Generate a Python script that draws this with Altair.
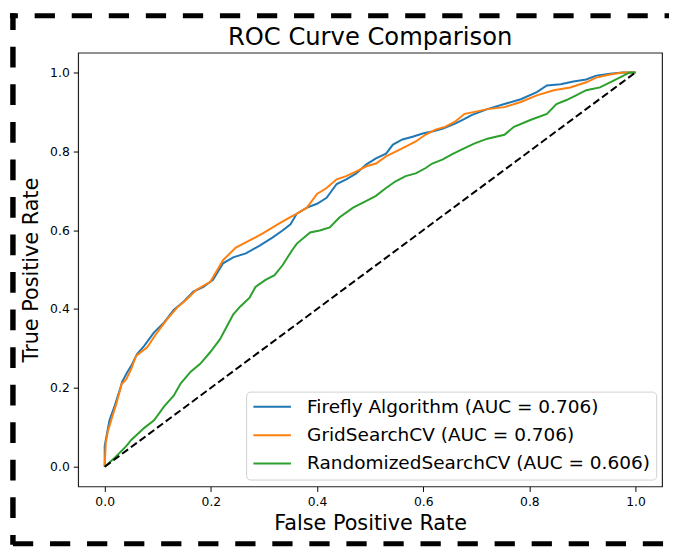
import altair as alt
import pandas as pd

# ---- data ----
models = ["Firefly Algorithm (AUC = 0.706)",
          "GridSearchCV (AUC = 0.706)",
          "RandomizedSearchCV (AUC = 0.606)"]
colors = ["#1f77b4", "#ff7f0e", "#2ca02c"]
title_text = ["ROC Curve Comparison"]

firefly_fpr = [0.0, 0.0, 0.009, 0.019, 0.028, 0.033, 0.043, 0.050, 0.061, 0.074, 0.093, 0.112, 0.130, 0.149,
               0.167, 0.186, 0.204, 0.223, 0.242, 0.266, 0.292, 0.316, 0.335, 0.350, 0.362, 0.381, 0.400, 0.418,
               0.437, 0.455, 0.474, 0.493, 0.511, 0.530, 0.543, 0.561, 0.580, 0.599, 0.617, 0.636, 0.660, 0.678,
               0.691, 0.721, 0.753, 0.784, 0.814, 0.833, 0.859, 0.883, 0.907, 0.926, 0.952, 0.976, 1.0]
firefly_tpr = [0.0, 0.053, 0.118, 0.155, 0.193, 0.216, 0.241, 0.256, 0.286, 0.306, 0.341, 0.366, 0.398, 0.419,
               0.444, 0.456, 0.474, 0.516, 0.531, 0.541, 0.561, 0.581, 0.599, 0.615, 0.642, 0.657, 0.667, 0.682,
               0.717, 0.729, 0.744, 0.767, 0.782, 0.794, 0.817, 0.830, 0.837, 0.845, 0.850, 0.857, 0.870, 0.882,
               0.892, 0.907, 0.920, 0.932, 0.950, 0.967, 0.970, 0.977, 0.982, 0.992, 0.997, 1.0, 1.0]

grid_fpr = [0.0, 0.002, 0.006, 0.015, 0.022, 0.032, 0.041, 0.050, 0.059, 0.080, 0.099, 0.117, 0.136, 0.154,
            0.173, 0.199, 0.223, 0.247, 0.273, 0.297, 0.329, 0.348, 0.362, 0.381, 0.400, 0.418, 0.437, 0.455,
            0.474, 0.493, 0.511, 0.530, 0.548, 0.567, 0.586, 0.604, 0.623, 0.641, 0.660, 0.678, 0.697, 0.721,
            0.753, 0.784, 0.814, 0.846, 0.877, 0.907, 0.926, 0.952, 0.976, 1.0]
grid_tpr = [0.0, 0.060, 0.090, 0.130, 0.160, 0.210, 0.223, 0.248, 0.281, 0.303, 0.341, 0.373, 0.403, 0.424,
            0.449, 0.469, 0.524, 0.556, 0.574, 0.591, 0.617, 0.632, 0.642, 0.657, 0.692, 0.707, 0.729, 0.737,
            0.749, 0.762, 0.769, 0.787, 0.799, 0.812, 0.825, 0.842, 0.855, 0.862, 0.875, 0.895, 0.900, 0.907,
            0.912, 0.925, 0.942, 0.955, 0.962, 0.975, 0.987, 0.995, 1.0, 1.0]

rand_fpr = [0.0, 0.019, 0.041, 0.050, 0.074, 0.093, 0.112, 0.130, 0.143, 0.162, 0.180, 0.199, 0.217, 0.229,
            0.242, 0.255, 0.273, 0.284, 0.303, 0.320, 0.335, 0.353, 0.362, 0.387, 0.405, 0.424, 0.442, 0.468,
            0.493, 0.511, 0.530, 0.548, 0.567, 0.586, 0.604, 0.617, 0.636, 0.654, 0.673, 0.697, 0.721, 0.753,
            0.771, 0.803, 0.833, 0.851, 0.870, 0.888, 0.907, 0.933, 0.952, 0.970, 0.989, 1.0]
rand_tpr = [0.0, 0.023, 0.053, 0.068, 0.098, 0.118, 0.153, 0.180, 0.211, 0.241, 0.261, 0.291, 0.323, 0.353,
            0.386, 0.406, 0.429, 0.456, 0.474, 0.486, 0.511, 0.549, 0.566, 0.594, 0.599, 0.607, 0.632, 0.657,
            0.674, 0.687, 0.707, 0.724, 0.737, 0.744, 0.757, 0.769, 0.779, 0.792, 0.805, 0.820, 0.832, 0.842,
            0.862, 0.880, 0.895, 0.920, 0.930, 0.942, 0.955, 0.962, 0.975, 0.987, 1.0, 1.0]

diag_x = [0.0, 1.0]
diag_y = [0.0, 1.0]

x_ticks = [0.0, 0.2, 0.4, 0.6, 0.8, 1.0]
y_ticks = [0.0, 0.2, 0.4, 0.6, 0.8, 1.0]

# ---- build tables ----
rows = []
for name, fx, ty in zip(models, [firefly_fpr, grid_fpr, rand_fpr], [firefly_tpr, grid_tpr, rand_tpr]):
    for i, (a, b) in enumerate(zip(fx, ty)):
        rows.append({"model": name, "fpr": a, "tpr": b, "idx": i})
df = pd.DataFrame(rows)
diag = pd.DataFrame({"fpr": diag_x, "tpr": diag_y})
one = pd.DataFrame({"a": [0]})
title_df = pd.DataFrame({"t": title_text})

FONT = "DejaVu Sans"
xscale = alt.Scale(domain=[-0.05, 1.05], nice=False, zero=False)
yscale = alt.Scale(domain=[-0.05, 1.05], nice=False, zero=False)

xaxis = alt.Axis(values=x_ticks, format=".1f", title="False Positive Rate", grid=False, domain=False,
                 tickSize=5, tickColor="#000", tickWidth=1, labelFontSize=12.5, labelFont=FONT,
                 labelColor="#000", labelPadding=4, titleFont=FONT, titleFontSize=21,
                 titleFontWeight="normal", titleColor="#000", titlePadding=5)
yaxis = alt.Axis(values=y_ticks, format=".1f", title="True Positive Rate", grid=False, domain=False,
                 tickSize=5, tickColor="#000", tickWidth=1, labelFontSize=12.5, labelFont=FONT,
                 labelColor="#000", labelPadding=4, titleFont=FONT, titleFontSize=21,
                 titleFontWeight="normal", titleColor="#000", titlePadding=8)

lines = alt.Chart(df).mark_line(strokeWidth=2).encode(
    x=alt.X("fpr:Q", scale=xscale, axis=xaxis),
    y=alt.Y("tpr:Q", scale=yscale, axis=yaxis),
    color=alt.Color("model:N", sort=models,
                    scale=alt.Scale(domain=models, range=colors),
                    legend=alt.Legend(title=None, orient="none", legendX=170, legendY=343,
                                      fillColor="#ffffff", strokeColor="#d0d0d0", cornerRadius=4,
                                      padding=6, labelFont=FONT, labelFontSize=18.7, labelColor="#000",
                                      symbolType="M-1,0H3.75", symbolSize=256, symbolStrokeWidth=2,
                                      labelOffset=37, rowPadding=8.7, labelLimit=500)),
    order="idx:Q",
)

diag_line = alt.Chart(diag).mark_line(color="black", strokeWidth=2, strokeDash=[7.5, 3.5]).encode(
    x=alt.X("fpr:Q", scale=xscale),
    y=alt.Y("tpr:Q", scale=yscale),
)

title_mark = alt.Chart(title_df).mark_text(font=FONT, fontSize=24.5, color="#000", align="center",
                                           baseline="alphabetic").encode(
    text="t:N", x=alt.value(295.5), y=alt.value(-8))

# dashed figure border (decoration)
top_border = alt.Chart(one).mark_rule(color="black", strokeWidth=5, strokeDash=[20.5, 17],
                                      strokeDashOffset=12.5, strokeCap="butt").encode(
    x=alt.value(-69), x2=alt.value(601), y=alt.value(-37.5))
left_border = alt.Chart(one).mark_rule(color="black", strokeWidth=5.5, strokeDash=[21, 17],
                                       strokeDashOffset=4, strokeCap="butt").encode(
    x=alt.value(-66), y=alt.value(-40), y2=alt.value(498))
bottom_border = alt.Chart(one).mark_rule(color="black", strokeWidth=5, strokeDash=[20.5, 17],
                                         strokeDashOffset=0, strokeCap="butt").encode(
    x=alt.value(-66), x2=alt.value(601), y=alt.value(497))

chart = alt.layer(lines, diag_line, title_mark, top_border, left_border, bottom_border).properties(
    width=591, height=439,
    background="white",
    autosize=alt.AutoSizeParams(type="none"),
    padding={"left": 71, "top": 42, "right": 7, "bottom": 59},
).configure_view(stroke="#222", strokeWidth=1.2)

chart.save("out.html", embed_options={"renderer": "svg", "actions": False})
